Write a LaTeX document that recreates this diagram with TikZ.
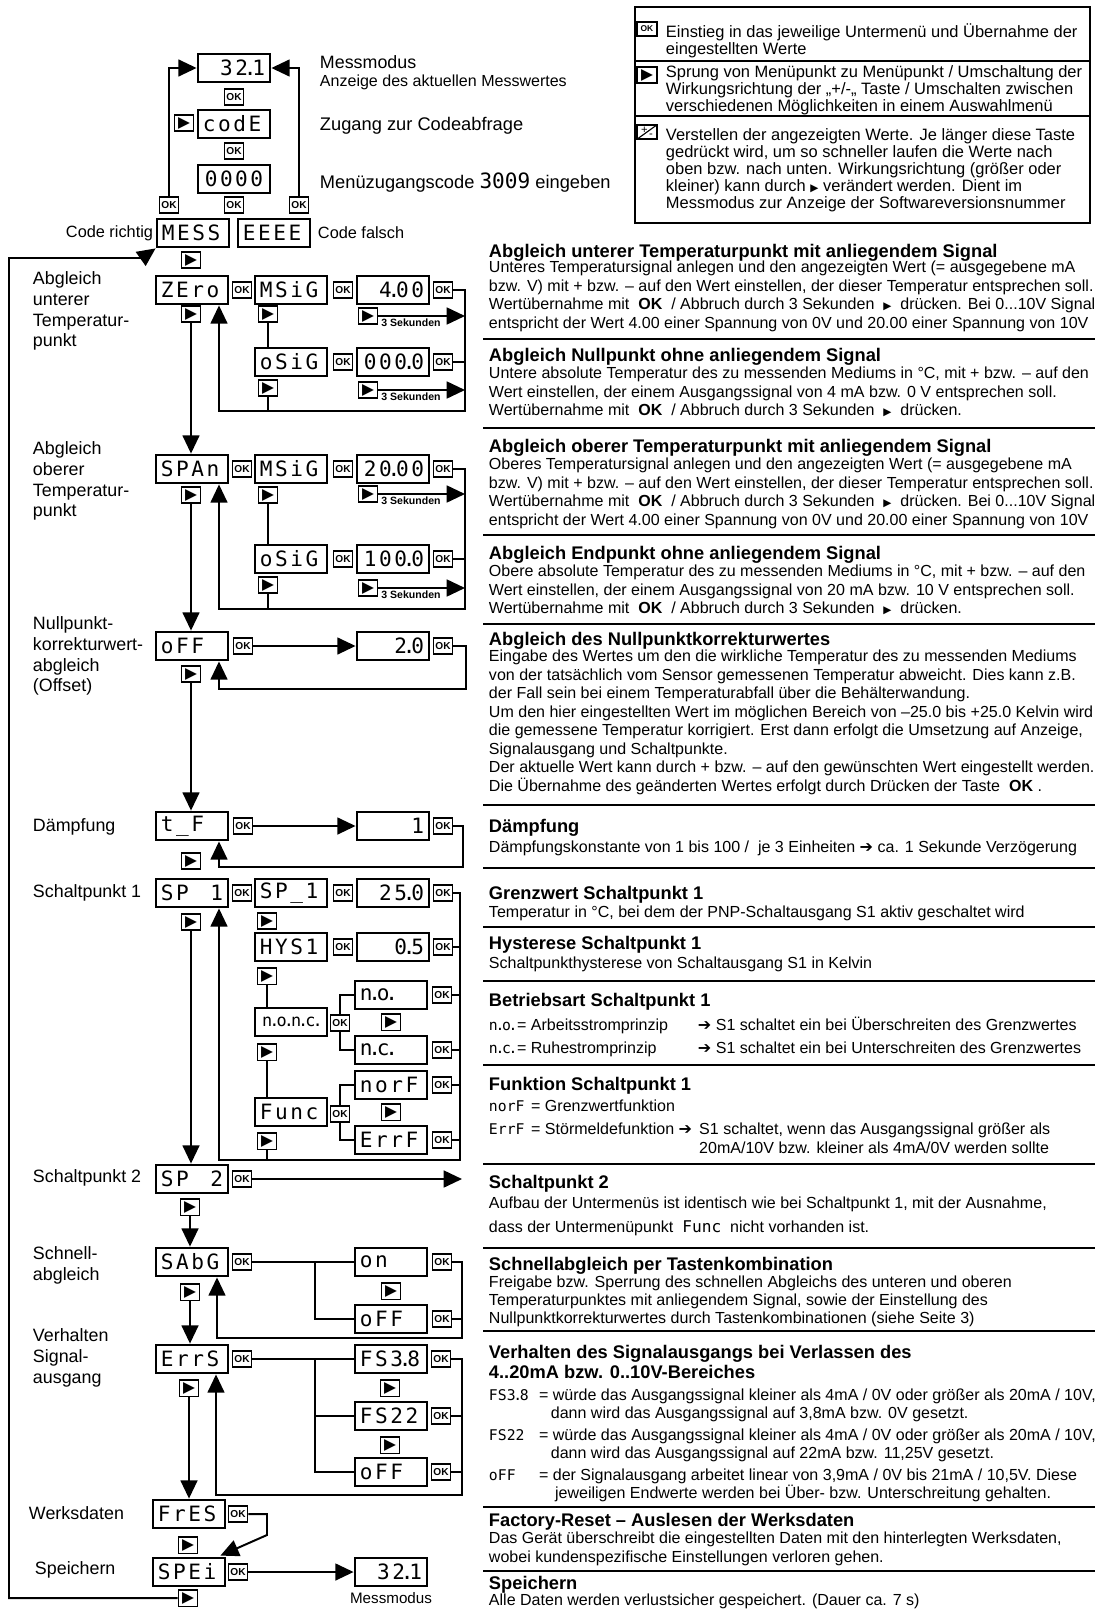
\documentclass[tikz,border=0pt]{standalone}
\usepackage{fontspec}
\setmainfont{Liberation Sans}
\newfontfamily\lcdf[LetterSpace=12]{DejaVu Sans Mono}
\newfontfamily\lcdn{DejaVu Sans Mono}
\newfontfamily\symf{DejaVu Sans}
\usetikzlibrary{arrows.meta,shapes,calc,positioning}
\newcommand{\ldot}{\makebox[3pt]{.}}
\newcommand{\lcdi}[1]{{\lcdn\fontsize{10.5}{10}\selectfont #1}}
\newcommand{\tri}{{\symf\fontsize{7.5}{7}\selectfont ▶}}
\newcommand{\harr}{{\symf ➔}}

\begin{document}
\begin{tikzpicture}[x=0.025cm, y=-0.025cm, line width=1.4pt,
  lcd/.style={draw, line width=2pt, minimum width=1.8cm, minimum height=0.7cm, inner sep=0pt, font=\lcdf\fontsize{15}{15}\selectfont},
  lcdr/.style={lcd, text width=1.55cm, align=right},
  lcdl/.style={lcd, text width=1.55cm, align=left},
  okbtn/.style={draw, line width=1.3pt, minimum width=0.475cm, minimum height=0.4cm, inner sep=0pt, font=\bfseries\fontsize{7.2}{7}\selectfont},
  playbtn/.style={draw, line width=1.3pt, minimum width=0.475cm, minimum height=0.42cm, inner sep=0pt, font=\symf\fontsize{11}{11}\selectfont},
  arr/.style={-{Triangle[length=13pt,width=12pt]}},
  lbl/.style={inner sep=0pt, align=left, font=\fontsize{12.7}{14.7}\selectfont},
  ltext/.style={anchor=north west, inner sep=0pt, align=left, font=\fontsize{11.7}{11.8}\selectfont},
  dtitle/.style={anchor=north west, inner sep=0pt, align=left, font=\bfseries\fontsize{13}{14.2}\selectfont},
  dbody/.style={anchor=north west, inner sep=0pt, align=left, font=\fontsize{11.4}{13.2}\selectfont},
  sek/.style={inner sep=0pt, font=\bfseries\fontsize{7.5}{7.5}\selectfont},
  sepl/.style={line width=1.2pt}]
  \useasboundingbox (0,0) rectangle (1095,1610);
  \clip (0,0) rectangle (1095,1610);

  \draw[line width=1.2pt] (635,7) rectangle (1090,223);
  \draw[line width=1.2pt] (635,61) -- (1090,61);
  \draw[line width=1.2pt] (635,116) -- (1090,116);
  \node[okbtn, minimum width=0.5cm, minimum height=0.33cm, font=\bfseries\fontsize{6}{6}\selectfont] (lok) at (647,29) {OK};
  \node[playbtn, minimum width=0.5cm] (lplay) at (647,75) {▶};
  \node[draw, line width=1.2pt, minimum width=0.5cm, minimum height=0.36cm, inner sep=0pt, font=\fontsize{8}{8}\selectfont,
    path picture={\draw[line width=0.8pt] (path picture bounding box.south west) -- (path picture bounding box.north east);}] (lpm) at (647,132) {\raisebox{1pt}{+}\kern1pt\raisebox{-2pt}{-}};
  \node[ltext] (la) at (665,23) {Einstieg in das jeweilige Untermenü und Übernahme der\\eingestellten Werte};
  \node[ltext] (lb) at (665,65) {Sprung von Menüpunkt zu Menüpunkt / Umschaltung der\\Wirkungsrichtung der „+/-„ Taste / Umschalten zwischen\\verschiedenen Möglichkeiten in einem Auswahlmenü};
  \node[ltext, font=\fontsize{11.7}{12}\selectfont] (lc) at (665,128) {Verstellen der angezeigten Werte. Je länger diese Taste\\gedrückt wird, um so schneller laufen die Werte nach\\oben bzw. nach unten. Wirkungsrichtung (größer oder\\kleiner) kann durch \tri\ verändert werden. Dient im\\Messmodus zur Anzeige der Softwareversionsnummer};

  \node[lcdr] (top) at (234,68) {32\ldot 1};
  \node[okbtn] (oka) at (234,97) {OK};
  \node[lcdl] (code) at (234,124) {codE};
  \node[playbtn] (pcode) at (184,123) {▶};
  \node[okbtn] (okb) at (234,151) {OK};
  \node[lcd] (zeros) at (234,179) {0000};
  \node[okbtn] (okl) at (169,205) {OK};
  \node[okbtn] (okm) at (234,205) {OK};
  \node[okbtn] (okr) at (299,205) {OK};
  \node[lcdl] (mess) at (193,233) {MESS};
  \node[lcdl] (eeee) at (274,233) {EEEE};
  \node[anchor=east, inner sep=0pt, font=\fontsize{11.6}{12}\selectfont] (cr) at (154,233) {Code richtig};
  \node[anchor=west, inner sep=0pt, font=\fontsize{11.6}{12}\selectfont] (cf) at (317,233) {Code falsch};
  \node[anchor=west, inner sep=0pt, font=\fontsize{12.7}{13}\selectfont] (mm) at (319,62) {Messmodus};
  \node[anchor=west, inner sep=0pt, font=\fontsize{11.4}{12}\selectfont] (amm) at (319,82) {Anzeige des aktuellen Messwertes};
  \node[anchor=west, inner sep=0pt, font=\fontsize{13}{13}\selectfont] (zc) at (319,126) {Zugang zur Codeabfrage};
  \node[anchor=west, inner sep=0pt, font=\fontsize{13}{13}\selectfont] (mz) at (319,183) {Menüzugangscode {\lcdn\fontsize{15}{15}\selectfont 3009} eingeben};
  \draw[arr] (okl.north) |- (top.west);
  \draw[arr] (okr.north) |- (top.east);

  \node[playbtn] (pmess) at (191,260) {▶};
  \node[lcdl] (zero) at (192,290) {ZEro};
  \node[okbtn] (okz) at (242,290) {OK};
  \node[lcdl] (msiga) at (291,290) {MSiG};
  \node[okbtn] (okma) at (343,290) {OK};
  \node[lcdr] (vfour) at (393,290) {4\ldot 00};
  \node[okbtn] (okfour) at (443,290) {OK};
  \node[playbtn] (pzero) at (191,314) {▶};
  \node[playbtn] (pmsiga) at (268,314) {▶};
  \node[playbtn] (pfour) at (368,316) {▶};
  \node[sek, anchor=south west] (sfour) at ($(pfour.south east)+(2,2)$) {3 Sekunden};
  \node[lcdl] (osiga) at (291,362) {oSiG};
  \node[okbtn] (okoa) at (343,362) {OK};
  \node[lcdr] (vnull) at (393,362) {000\ldot 0};
  \node[okbtn] (oknull) at (443,362) {OK};
  \node[playbtn] (posiga) at (268,388) {▶};
  \node[playbtn] (pnull) at (368,390) {▶};
  \node[sek, anchor=south west] (snull) at ($(pnull.south east)+(2,2)$) {3 Sekunden};
  \coordinate (busa) at (465,411);
  \draw[arr] (okfour.east) -| (busa) -| ($(zero.south)+(27,0)$);
  \draw (oknull.east) -- (oknull.east -| busa);
  \draw (posiga.south) -- (posiga.south |- busa);
  \draw (pmsiga.south) -- (pmsiga.south |- osiga.north);
  \draw[arr] (pfour.east) -- (pfour.east -| busa);
  \draw[arr] (pnull.east) -- (pnull.east -| busa);

  \node[lcdl] (span) at (192,469) {SPAn};
  \node[okbtn] (oks) at (242,469) {OK};
  \node[lcdl] (msigb) at (291,469) {MSiG};
  \node[okbtn] (okmb) at (343,469) {OK};
  \node[lcdr] (vtwenty) at (393,469) {20\ldot 00};
  \node[okbtn] (oktwenty) at (443,469) {OK};
  \node[playbtn] (pspan) at (191,495) {▶};
  \node[playbtn] (pmsigb) at (268,495) {▶};
  \node[playbtn] (ptwenty) at (368,494) {▶};
  \node[sek, anchor=south west] (stwenty) at ($(ptwenty.south east)+(2,2)$) {3 Sekunden};
  \node[lcdl] (osigb) at (291,559) {oSiG};
  \node[okbtn] (okob) at (343,559) {OK};
  \node[lcdr] (vhundred) at (393,559) {100\ldot 0};
  \node[okbtn] (okhundred) at (443,559) {OK};
  \node[playbtn] (posigb) at (268,585) {▶};
  \node[playbtn] (phundred) at (368,588) {▶};
  \node[sek, anchor=south west] (shundred) at ($(phundred.south east)+(2,2)$) {3 Sekunden};
  \coordinate (busb) at (465,609);
  \draw[arr] (pzero.south) -- (pzero.south |- span.north);
  \draw[arr] (oktwenty.east) -| (busb) -| ($(span.south)+(27,0)$);
  \draw (okhundred.east) -- (okhundred.east -| busb);
  \draw (posigb.south) -- (posigb.south |- busb);
  \draw (pmsigb.south) -- (pmsigb.south |- osigb.north);
  \draw[arr] (ptwenty.east) -- (ptwenty.east -| busb);
  \draw[arr] (phundred.east) -- (phundred.east -| busb);

  \node[lcdl] (offs) at (192,646) {oFF};
  \node[okbtn] (okoff) at (243,646) {OK};
  \node[lcdr] (vtwo) at (393,646) {2\ldot 0};
  \node[okbtn] (oktwo) at (443,646) {OK};
  \node[playbtn] (poff) at (191,674) {▶};
  \coordinate (busc) at (466,689);
  \draw[arr] (pspan.south) -- (pspan.south |- offs.north);
  \draw[arr] (okoff.east) -- (vtwo.west);
  \draw[arr] (oktwo.east) -| (busc) -| ($(offs.south)+(27,0)$);

  \node[lcdl] (tf) at (192,826) {t\_F};
  \node[okbtn] (okt) at (243,826) {OK};
  \node[lcdr] (vone) at (393,826) {1};
  \node[okbtn] (okone) at (443,826) {OK};
  \node[playbtn] (ptf) at (191,861) {▶};
  \coordinate (busd) at (463,867);
  \draw[arr] (poff.south) -- (poff.south |- tf.north);
  \draw[arr] (okt.east) -- (vone.west);
  \draw[arr] (okone.east) -| (busd) -| ($(tf.south)+(27,0)$);

  \node[lcdl] (spa) at (192,893) {SP\hfill 1};
  \node[okbtn] (oksa) at (242,893) {OK};
  \node[lcdl] (spone) at (291,893) {SP\_1};
  \node[okbtn] (oksone) at (343,893) {OK};
  \node[lcdr] (vtf) at (393,893) {25\ldot 0};
  \node[okbtn] (oktf) at (443,893) {OK};
  \node[playbtn] (pspa) at (191,922) {▶};
  \node[playbtn] (pspone) at (267,921) {▶};
  \node[lcdl] (hys) at (291,947) {HYS1};
  \node[okbtn] (okhys) at (343,947) {OK};
  \node[lcdr] (vhalf) at (393,947) {0\ldot 5};
  \node[okbtn] (okhalf) at (443,947) {OK};
  \node[playbtn] (phys) at (267,976) {▶};
  \node[lcd, font=\lcdn\fontsize{12}{12}\selectfont] (nonc) at (291,1022) {n\ldot o\ldot n\ldot c\ldot};
  \node[okbtn] (oknonc) at (340,1023) {OK};
  \node[lcdl] (no) at (391,995) {n\ldot o\ldot};
  \node[okbtn] (okno) at (442,995) {OK};
  \node[playbtn] (pno) at (391,1022) {▶};
  \node[lcdl] (nc) at (391,1050) {n\ldot c\ldot};
  \node[okbtn] (oknc) at (442,1050) {OK};
  \node[playbtn] (pnonc) at (267,1052) {▶};
  \node[lcdl] (norf) at (391,1085) {norF};
  \node[okbtn] (oknorf) at (442,1085) {OK};
  \node[lcdl] (func) at (291,1112) {Func};
  \node[okbtn] (okfunc) at (340,1114) {OK};
  \node[playbtn] (pnorf) at (391,1112) {▶};
  \node[lcdl] (errf) at (391,1140) {ErrF};
  \node[okbtn] (okerrf) at (442,1140) {OK};
  \node[playbtn] (pfunc) at (267,1141) {▶};
  \coordinate (buse) at (460,1160);
  \draw (oknonc.north) |- (no.west);
  \draw (oknonc.south) |- (nc.west);
  \draw (okfunc.north) |- (norf.west);
  \draw (okfunc.south) |- (errf.west);
  \draw (phys.south) -- (phys.south |- nonc.north);
  \draw (pnonc.south) -- (pnonc.south |- func.north);
  \draw (pfunc.south) -- (pfunc.south |- buse);
  \draw[arr] (oktf.east) -| (buse) -| ($(spa.south)+(27,0)$);
  \foreach \k in {okhalf,okno,oknc,oknorf,okerrf}
    \draw (\k.east) -- (\k.east -| buse);

  \node[lcdl] (spb) at (192,1179) {SP\hfill 2};
  \node[okbtn] (oksb) at (242,1179) {OK};
  \node[playbtn] (pspb) at (190,1207) {▶};
  \coordinate (spbend) at (462,1179);
  \draw[arr] (pspa.south) -- (pspa.south |- spb.north);
  \draw[arr] (oksb.east) -- (spbend);

  \node[lcdl] (sabg) at (192,1262) {SAbG};
  \node[okbtn] (oksabg) at (242,1262) {OK};
  \node[lcdl] (onv) at (391,1262) {on};
  \node[okbtn] (okon) at (442,1262) {OK};
  \node[playbtn] (pon) at (391,1291) {▶};
  \node[lcdl] (offsa) at (391,1319) {oFF};
  \node[okbtn] (okoffsa) at (442,1319) {OK};
  \node[playbtn] (psabg) at (190,1292) {▶};
  \coordinate (sabx) at (315,1262);
  \coordinate (busf) at (462,1338);
  \draw[arr] (pspb.south) -- (pspb.south |- sabg.north);
  \draw (oksabg.east) -- (onv.west);
  \draw (sabx) |- (offsa.west);
  \draw[arr] (okon.east) -| (busf) -| ($(sabg.south)+(25,0)$);
  \draw (okoffsa.east) -- (okoffsa.east -| busf);

  \node[lcdl] (errs) at (192,1359) {ErrS};
  \node[okbtn] (okerrs) at (242,1359) {OK};
  \node[lcdl] (fsa) at (391,1359) {FS3\ldot 8};
  \node[okbtn] (okfsa) at (441,1359) {OK};
  \node[playbtn] (pfsa) at (390,1388) {▶};
  \node[lcdl] (fsb) at (391,1416) {FS22};
  \node[okbtn] (okfsb) at (441,1416) {OK};
  \node[playbtn] (pfsb) at (390,1445) {▶};
  \node[lcdl] (offe) at (391,1472) {oFF};
  \node[okbtn] (okoffe) at (441,1472) {OK};
  \node[playbtn] (perrs) at (189,1388) {▶};
  \coordinate (errx) at (315,1359);
  \coordinate (busg) at (462,1495);
  \draw[arr] (psabg.south) -- (psabg.south |- errs.north);
  \draw (okerrs.east) -- (fsa.west);
  \draw (errx) |- (fsb.west);
  \draw (errx) |- (offe.west);
  \draw[arr] (okfsa.east) -| (busg) -| ($(errs.south)+(24,0)$);
  \draw (okfsb.east) -- (okfsb.east -| busg);
  \draw (okoffe.east) -- (okoffe.east -| busg);

  \node[lcdl] (fres) at (189,1514) {FrES};
  \node[okbtn] (okfres) at (238,1514) {OK};
  \node[playbtn] (pfres) at (188,1545) {▶};
  \node[lcdl] (spei) at (189,1572) {SPEi};
  \node[okbtn] (okspei) at (238,1572) {OK};
  \node[lcdr] (topb) at (391,1572) {32\ldot 1};
  \node[below=3pt of topb, inner sep=0pt, font=\fontsize{10.8}{11}\selectfont] (msb) {Messmodus};
  \node[playbtn] (pspei) at (188,1598) {▶};
  \coordinate (frk) at (267,1535);
  \coordinate (loopa) at (9,258);
  \coordinate (loopb) at (142,258);
  \draw[arr] (perrs.south) -- (perrs.south |- fres.north);
  \draw[arr] (okfres.east) -| (frk) -- ($(spei.north east)+(-6,-1)$);
  \draw[arr] (okspei.east) -- (topb.west);
  \draw[arr] (pspei.west) -| (loopa) -- (loopb) -- (mess.south west);

  \node[lbl, anchor=north west] (lzero) at (32,271) {Abgleich\\unterer\\Temperatur-\\punkt};
  \node[lbl, anchor=north west] (lspan) at (32,441) {Abgleich\\oberer\\Temperatur-\\punkt};
  \node[lbl, anchor=north west] (loff) at (32,616) {Nullpunkt-\\korrekturwert-\\abgleich\\(Offset)};
  \node[lbl, anchor=west] (ltf) at (32,827) {Dämpfung};
  \node[lbl, anchor=west] (lspa) at (32,893) {Schaltpunkt 1};
  \node[lbl, anchor=west] (lspb) at (32,1178) {Schaltpunkt 2};
  \node[lbl, anchor=north west] (lsabg) at (32,1246) {Schnell-\\abgleich};
  \node[lbl, anchor=north west] (lerrs) at (32,1328) {Verhalten\\Signal-\\ausgang};
  \node[lbl, anchor=west] (lfres) at (28,1513) {Werksdaten};
  \node[lbl, anchor=west] (lspei) at (34,1570) {Speichern};

  \foreach \y in {339,428,535,624,805,868,927,981,1065,1164,1248,1331,1507,1571}
    \draw[sepl] (483,\y) -- (1095,\y);

  \node[dtitle] (ta) at (488,243) {Abgleich unterer Temperaturpunkt mit anliegendem Signal};
  \node[dbody] (ba) at (488,260) {Unteres Temperatursignal anlegen und den angezeigten Wert (= ausgegebene mA\\bzw. V) mit + bzw. – auf den Wert einstellen, der dieser Temperatur entsprechen soll.\\Wertübernahme mit\ \ \textbf{OK}\ \ / Abbruch durch 3 Sekunden \ \tri\ \ drücken. Bei 0...10V Signal\\entspricht der Wert 4.00 einer Spannung von 0V und 20.00 einer Spannung von 10V};
  \node[dtitle] (tb) at (488,347) {Abgleich Nullpunkt ohne anliegendem Signal};
  \node[dbody] (bb) at (488,366) {Untere absolute Temperatur des zu messenden Mediums in °C, mit + bzw. – auf den\\Wert einstellen, der einem Ausgangssignal von 4 mA bzw. 0 V entsprechen soll.\\Wertübernahme mit\ \ \textbf{OK}\ \ / Abbruch durch 3 Sekunden \ \tri\ \ drücken.};
  \node[dtitle] (tc) at (488,438) {Abgleich oberer Temperaturpunkt mit anliegendem Signal};
  \node[dbody] (bc) at (488,457) {Oberes Temperatursignal anlegen und den angezeigten Wert (= ausgegebene mA\\bzw. V) mit + bzw. – auf den Wert einstellen, der dieser Temperatur entsprechen soll.\\Wertübernahme mit\ \ \textbf{OK}\ \ / Abbruch durch 3 Sekunden \ \tri\ \ drücken. Bei 0...10V Signal\\entspricht der Wert 4.00 einer Spannung von 0V und 20.00 einer Spannung von 10V};
  \node[dtitle] (td) at (488,545) {Abgleich Endpunkt ohne anliegendem Signal};
  \node[dbody] (bd) at (488,564) {Obere absolute Temperatur des zu messenden Mediums in °C, mit + bzw. – auf den\\Wert einstellen, der einem Ausgangssignal von 20 mA bzw. 10 V entsprechen soll.\\Wertübernahme mit\ \ \textbf{OK}\ \ / Abbruch durch 3 Sekunden \ \tri\ \ drücken.};
  \node[dtitle] (te) at (488,631) {Abgleich des Nullpunktkorrekturwertes};
  \node[dbody] (be) at (488,649) {Eingabe des Wertes um den die wirkliche Temperatur des zu messenden Mediums\\von der tatsächlich vom Sensor gemessenen Temperatur abweicht. Dies kann z.B.\\der Fall sein bei einem Temperaturabfall über die Behälterwandung.\\Um den hier eingestellten Wert im möglichen Bereich von –25.0 bis +25.0 Kelvin wird\\die gemessene Temperatur korrigiert. Erst dann erfolgt die Umsetzung auf Anzeige,\\Signalausgang und Schaltpunkte.\\Der aktuelle Wert kann durch + bzw. – auf den gewünschten Wert eingestellt werden.\\Die Übernahme des geänderten Wertes erfolgt durch Drücken der Taste\ \ \textbf{OK} .};
  \node[dtitle] (tf2) at (488,818) {Dämpfung};
  \node[dbody] (bf) at (488,840) {Dämpfungskonstante von 1 bis 100 / \ je 3 Einheiten \harr\ ca. 1 Sekunde Verzögerung};
  \node[dtitle] (tg) at (488,885) {Grenzwert Schaltpunkt 1};
  \node[dbody] (bg) at (488,905) {Temperatur in °C, bei dem der PNP-Schaltausgang S1 aktiv geschaltet wird};
  \node[dtitle] (th) at (488,935) {Hysterese Schaltpunkt 1};
  \node[dbody] (bh) at (488,956) {Schaltpunkthysterese von Schaltausgang S1 in Kelvin};
  \node[dtitle] (ti) at (488,992) {Betriebsart Schaltpunkt 1};
  \node[dbody] (bi) at (488,1016) {\makebox[20pt][l]{\lcdi{n\ldot o\ldot}}\makebox[128.6pt][l]{= Arbeitsstromprinzip}\harr\ S1 schaltet ein bei Überschreiten des Grenzwertes\\[3.5pt]\makebox[20pt][l]{\lcdi{n\ldot c\ldot}}\makebox[128.6pt][l]{= Ruhestromprinzip}\harr\ S1 schaltet ein bei Unterschreiten des Grenzwertes};
  \node[dtitle] (tj) at (488,1076) {Funktion Schaltpunkt 1};
  \node[dbody] (bj) at (488,1099) {\makebox[30pt][l]{\lcdi{norF}}= Grenzwertfunktion\\[3.2pt]\makebox[30pt][l]{\lcdi{ErrF}}\makebox[119.5pt][l]{= Störmeldefunktion \harr}S1 schaltet, wenn das Ausgangssignal größer als\\\hspace*{149.5pt}20mA/10V bzw. kleiner als 4mA/0V werden sollte};
  \node[dtitle] (tk) at (488,1174) {Schaltpunkt 2};
  \node[dbody] (bk) at (488,1196) {Aufbau der Untermenüs ist identisch wie bei Schaltpunkt 1, mit der Ausnahme,\\[4pt]dass der Untermenüpunkt \ {\lcdn\fontsize{11.5}{10}\selectfont Func} \ nicht vorhanden ist.};
  \node[dtitle] (tl) at (488,1256) {Schnellabgleich per Tastenkombination};
  \node[dbody, font=\fontsize{11.4}{12.6}\selectfont] (bl) at (488,1275) {Freigabe bzw. Sperrung des schnellen Abgleichs des unteren und oberen\\Temperaturpunktes mit anliegendem Signal, sowie der Einstellung des\\Nullpunktkorrekturwertes durch Tastenkombinationen (siehe Seite 3)};
  \node[dtitle] (tm) at (488,1344) {Verhalten des Signalausgangs bei Verlassen des\\4..20mA bzw. 0..10V-Bereiches};
  \node[dbody, font=\fontsize{11.4}{12.9}\selectfont] (bm) at (488,1388) {\makebox[35.6pt][l]{\lcdi{FS3\ldot 8}}= würde das Ausgangssignal kleiner als 4mA / 0V oder größer als 20mA / 10V,\\\hspace*{44pt}dann wird das Ausgangssignal auf 3,8mA bzw. 0V gesetzt.\\[2.5pt]\makebox[35.6pt][l]{\lcdi{FS22}}= würde das Ausgangssignal kleiner als 4mA / 0V oder größer als 20mA / 10V,\\\hspace*{44pt}dann wird das Ausgangssignal auf 22mA bzw. 11,25V gesetzt.\\[2.5pt]\makebox[35.6pt][l]{\lcdi{oFF}}= der Signalausgang arbeitet linear von 3,9mA / 0V bis 21mA / 10,5V. Diese\\\hspace*{47pt}jeweiligen Endwerte werden bei Über- bzw. Unterschreitung gehalten.};
  \node[dtitle] (tn) at (488,1512) {Factory-Reset – Auslesen der Werksdaten};
  \node[dbody] (bn) at (488,1531) {Das Gerät überschreibt die eingestellten Daten mit den hinterlegten Werksdaten,\\wobei kundenspezifische Einstellungen verloren gehen.};
  \node[dtitle] (to) at (488,1575) {Speichern};
  \node[dbody] (bo) at (488,1593) {Alle Daten werden verlustsicher gespeichert. (Dauer ca. 7 s)};
\end{tikzpicture}
\end{document}
